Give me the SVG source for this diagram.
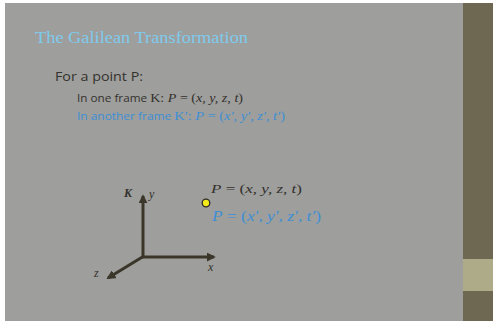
<svg xmlns="http://www.w3.org/2000/svg" width="493" height="322" viewBox="0 0 493 322">
<defs>
<style>
.serif{font-family:"Liberation Serif","DejaVu Serif",serif}
.sans{font-family:"Open Sans","Liberation Sans",sans-serif}
.dark{fill:#33312c}
.blue{fill:#3c8fd6}
.axis{stroke:#3a362a;stroke-width:3;fill:none}
</style>
<marker id="ah" viewBox="0 0 10 10" refX="8" refY="5" markerWidth="3" markerHeight="3" orient="auto" markerUnits="strokeWidth">
<path d="M0,0 L10,5 L0,10 Z" fill="#3a362a"/>
</marker>
</defs>
<rect x="0" y="0" width="493" height="322" fill="#ffffff"/>
<rect x="5" y="3" width="458" height="318" fill="#9e9e9c"/>
<rect x="463" y="3" width="30" height="318" fill="#6e6752"/>
<rect x="463" y="259" width="30" height="32" fill="#aeab89"/>
<g id="title">
<text class="serif" x="35" y="43" font-size="16" fill="#7ecbed" textLength="213" lengthAdjust="spacingAndGlyphs">The Galilean Transformation</text>
</g>
<g id="body">
<text class="sans dark" x="55" y="81" font-size="12" textLength="88" lengthAdjust="spacingAndGlyphs">For a point P:</text>
<text x="77" y="102" font-size="10" class="dark" textLength="166" lengthAdjust="spacingAndGlyphs"><tspan class="sans">In one frame </tspan><tspan class="serif" font-size="12">K: </tspan><tspan class="serif" font-style="italic" font-size="12">P</tspan><tspan class="serif" font-size="12"> = (</tspan><tspan class="serif" font-style="italic" font-size="12">x, y, z, t</tspan><tspan class="serif" font-size="12">)</tspan></text>
<text x="77" y="120" font-size="10" class="blue" textLength="208" lengthAdjust="spacingAndGlyphs"><tspan class="sans">In another frame </tspan><tspan class="serif" font-size="12">K′: </tspan><tspan class="serif" font-style="italic" font-size="12">P</tspan><tspan class="serif" font-size="12"> = (</tspan><tspan class="serif" font-style="italic" font-size="12">x′, y′, z′, t′</tspan><tspan class="serif" font-size="12">)</tspan></text>
</g>
<g id="connectors">
<line class="axis" x1="143" y1="257" x2="143" y2="196" marker-end="url(#ah)"/>
<line class="axis" x1="142" y1="257" x2="214" y2="257" marker-end="url(#ah)"/>
<line class="axis" x1="144" y1="256" x2="108" y2="278" marker-end="url(#ah)"/>
</g>
<g id="axis-labels">
<text class="serif dark" x="124" y="197" font-size="12" font-weight="bold" font-style="italic">K</text>
<text class="serif dark" x="149" y="198" font-size="12" font-style="italic">y</text>
<text class="serif dark" x="208" y="271" font-size="12" font-style="italic">x</text>
<text class="serif dark" x="94" y="277" font-size="12" font-style="italic">z</text>
</g>
<g id="point">
<circle cx="206" cy="203" r="3.8" fill="#f2ea1a" stroke="#2e2b22" stroke-width="1.3"/>
<text class="serif dark" x="211" y="193" font-size="13" textLength="91" lengthAdjust="spacingAndGlyphs"><tspan font-style="italic">P</tspan> = (<tspan font-style="italic">x, y, z, t</tspan>)</text>
<text class="serif blue" x="212" y="221" font-size="14" textLength="109" lengthAdjust="spacingAndGlyphs"><tspan font-style="italic">P</tspan> = (<tspan font-style="italic">x′, y′, z′, t′</tspan>)</text>
</g>
</svg>
